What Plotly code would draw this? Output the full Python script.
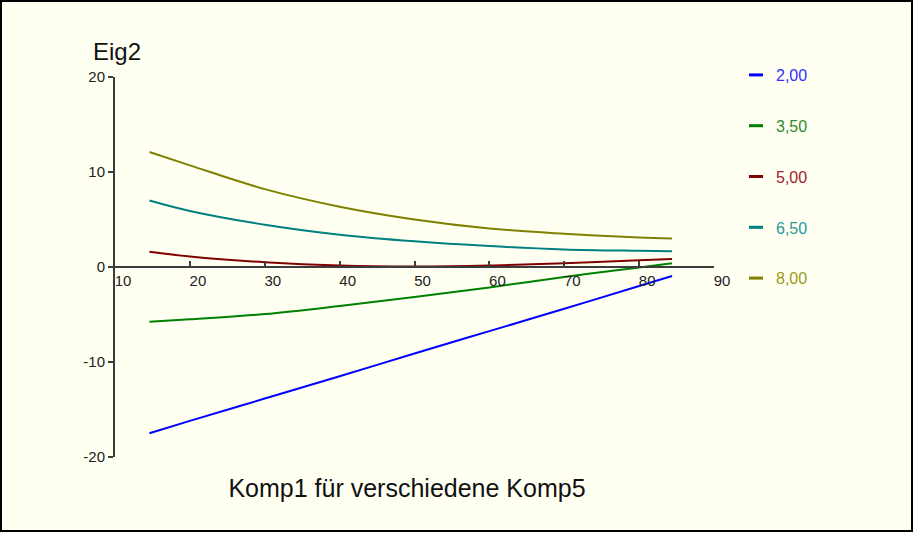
import plotly.graph_objects as go

# ---- data ----
komp1 = [14.6, 20, 30, 40, 50, 60, 70, 80, 84.4]
series_names = ["2,00", "3,50", "5,00", "6,50", "8,00"]
eig2_k5_200 = [-17.5, -16.2, -13.85, -11.5, -9.1, -6.75, -4.4, -2.0, -0.95]
eig2_k5_350 = [-5.75, -5.5, -4.95, -4.1, -3.15, -2.15, -1.05, -0.05, 0.4]
eig2_k5_500 = [1.6, 1.1, 0.5, 0.15, 0.05, 0.15, 0.4, 0.7, 0.85]
eig2_k5_650 = [7.0, 5.9, 4.45, 3.4, 2.7, 2.2, 1.85, 1.7, 1.65]
eig2_k5_800 = [12.1, 10.7, 8.2, 6.35, 5.0, 4.05, 3.5, 3.1, 3.0]
series_values = [eig2_k5_200, eig2_k5_350, eig2_k5_500, eig2_k5_650, eig2_k5_800]
colors = ["#0000FF", "#008000", "#800000", "#008080", "#808000"]
text_colors = ["#3030FF", "#2E8B2E", "#A02030", "#2A9A9A", "#9A9A20"]

x_ticks = [10, 20, 30, 40, 50, 60, 70, 80, 90]
y_ticks = [-20, -10, 0, 10, 20]
x_range = [10, 90]
y_range = [-20, 20]

# ---- layout geometry ----
W, H = 914, 533
L, R, T, B = 115, 200, 77, 76
PW, PH = W - L - R, H - T - B


def px_x(px):
    return (px - L) / PW


def px_y(py):
    return (H - B - py) / PH


fig = go.Figure()
for name, vals, col, tcol in zip(series_names, series_values, colors, text_colors):
    fig.add_trace(go.Scatter(
        x=komp1, y=vals, mode="lines",
        line=dict(color=col, width=2, shape="spline", smoothing=1.0),
        showlegend=False, legendgroup=name, hoverinfo="x+y"))
    # legend entry with a short dash
    fig.add_trace(go.Scatter(
        x=[None], y=[None], mode="markers",
        marker=dict(symbol="line-ew", size=10, color=col,
                    line=dict(color=col, width=3)),
        name=f"<span style='color:{tcol}'>{name}</span>",
        legendgroup=name, showlegend=True))

axis_col = "#3C3C3C"
fig.update_layout(
    width=W, height=H,
    margin=dict(l=L, r=R, t=T, b=B, pad=0),
    paper_bgcolor="#FFFFF2",
    plot_bgcolor="#FFFFF2",
    font=dict(family="Liberation Sans, Arial, sans-serif", color="#222222", size=15),
    xaxis=dict(
        range=x_range, tickvals=x_ticks, ticktext=[str(v) for v in x_ticks],
        showgrid=False, zeroline=False, showline=True, linecolor=axis_col, linewidth=2,
        ticks="inside", ticklen=5, tickcolor=axis_col, tickwidth=1.5,
        anchor="free", position=(0 - y_range[0]) / (y_range[1] - y_range[0]),
        ticklabelshift=8, tickfont=dict(size=15, color="#222222"),
    ),
    yaxis=dict(
        range=y_range, tickvals=y_ticks, ticktext=[str(v) for v in y_ticks],
        showgrid=False, zeroline=False, showline=True, linecolor=axis_col, linewidth=2,
        ticks="outside", ticklen=5, tickcolor=axis_col, tickwidth=1.5,
        tickfont=dict(size=15, color="#222222"),
    ),
    legend=dict(
        x=px_x(736), y=px_y(58), xanchor="left", yanchor="top",
        bgcolor="rgba(0,0,0,0)", tracegroupgap=27,
        font=dict(size=16), itemwidth=30,
    ),
    title=dict(
        text="Komp1 für verschiedene Komp5",
        x=407 / W, xanchor="center", y=1 - 488 / H, yanchor="middle",
        font=dict(size=25, color="#111111"),
    ),
    showlegend=True,
)

fig.add_annotation(
    text="Eig2", xref="paper", yref="paper",
    x=px_x(91), y=px_y(52), xanchor="left", yanchor="middle",
    showarrow=False, font=dict(size=24, color="#111111"))

# figure frame
fig.add_shape(
    type="rect", xref="paper", yref="paper",
    x0=px_x(1), x1=px_x(912), y0=px_y(1), y1=px_y(531),
    line=dict(color="#000000", width=2), fillcolor="rgba(0,0,0,0)", layer="above")

fig.write_html(
    "out.html",
    config={"displayModeBar": False},
    post_script="document.body.style.margin='0';document.body.style.padding='0';"
                "document.body.style.overflow='hidden';",
)
